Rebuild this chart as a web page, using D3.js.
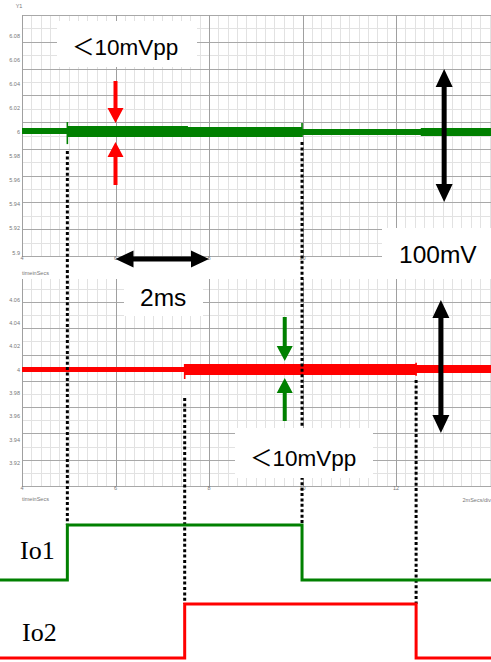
<!DOCTYPE html>
<html>
<head>
<meta charset="utf-8">
<script src="https://cdn.jsdelivr.net/npm/d3@7"></script>
<style>
  body { margin: 0; background: #fff; }
  svg { display: block; }
</style>
</head>
<body>
<svg id="chart" width="491" height="662"></svg>
<script>
// ---- data -------------------------------------------------------------
// time axis (ms) and voltage tick labels of both outputs
const timeTicks = [4, 6, 8, 10, 12];
const v1Ticks = [6.08, 6.06, 6.04, 6.02, 6, 5.98, 5.96, 5.94, 5.92, 5.9];
const v2Ticks = [4.06, 4.04, 4.02, 4, 3.98, 3.96, 3.94, 3.92];

// ripple envelope of each output: [tStart, tEnd, vMin, vMax]
const v1Segments = [
  [4.00, 4.97, 5.9983, 6.0033],
  [4.97, 7.55, 5.9959, 6.0050],
  [7.55, 9.99, 5.9959, 6.0041],
  [9.99, 12.53, 5.9975, 6.0025],
  [12.53, 14.2, 5.9967, 6.0033]
];
const v2Segments = [
  [4.00, 7.48, 3.9981, 4.0024],
  [7.48, 12.43, 3.9955, 4.0050],
  [12.43, 14.2, 3.9973, 4.0041]
];
// transient spikes at load steps: [t, vMin, vMax]
const v1Spikes = [[4.97, 5.9900, 6.0083], [9.99, 5.9959, 6.0075]];
const v2Spikes = [[7.48, 3.9921, 4.0050], [12.43, 3.9950, 4.0060]];

// load-current states: [t, level]
const io1States = [[-1, 0], [4.97, 1], [9.99, 0], [15, 0]];
const io2States = [[-1, 0], [7.48, 1], [12.43, 0], [15, 0]];

// event markers linking load steps to the outputs: [t, panel, vStart, io]
const markers = [
  [4.97, 1, 5.9842, 1],
  [9.99, 1, 5.9917, 1],
  [7.48, 2, 3.9758, 2],
  [12.43, 2, 3.9912, 2]
];

// ---- layout -----------------------------------------------------------
const svg = d3.select("#chart");
const W = 491;
const x = d3.scaleLinear().domain([4, 14]).range([22, 489.5]);

const p1 = { top: 15, bottom: 256, divs: 9, label: 258 };
const p2 = { top: 279, bottom: 486, divs: 8, divH: 26.3, label: 488 };
p1.divH = (p1.bottom - p1.top) / p1.divs;

const y1 = d3.scaleLinear().domain([5.9, 6.1]).range([252.6, 11.5]);
const y2 = d3.scaleLinear().domain([3.9, 4.08]).range([486.2, 276.7]);

const io1Y = d3.scaleLinear().domain([0, 1]).range([580, 525]);
const io2Y = d3.scaleLinear().domain([0, 1]).range([658, 604]);

const GREEN = "#008000", RED = "#ff0000";

// ---- grid -------------------------------------------------------------
function drawGrid(p) {
  const g = svg.append("g");
  const minorT = d3.range(4, 14.01, 0.2);
  g.selectAll(".vmin").data(minorT).join("line")
    .attr("x1", d => Math.round(x(d)) + 0.5).attr("x2", d => Math.round(x(d)) + 0.5)
    .attr("y1", p.top).attr("y2", p.bottom)
    .attr("stroke", "#e2e2e2").attr("stroke-width", 1);
  const hMinor = [], hMajor = [];
  for (let k = 0; ; k++) {
    const yy = p.bottom - k * p.divH / 2;
    if (yy < p.top - 0.5) break;
    (k % 2 === 0 ? hMajor : hMinor).push(yy);
  }
  g.selectAll(".hmin").data(hMinor).join("line")
    .attr("x1", x(4)).attr("x2", W)
    .attr("y1", d => Math.round(d) + 0.5).attr("y2", d => Math.round(d) + 0.5)
    .attr("stroke", "#e2e2e2");
  g.selectAll(".hmaj").data(hMajor).join("line")
    .attr("x1", x(4)).attr("x2", W)
    .attr("y1", d => Math.round(d) + 0.5).attr("y2", d => Math.round(d) + 0.5)
    .attr("stroke", "#a8a8a8");
  g.selectAll(".vmaj").data(timeTicks).join("line")
    .attr("x1", d => Math.round(x(d)) + 0.5).attr("x2", d => Math.round(x(d)) + 0.5)
    .attr("y1", p.top).attr("y2", p.bottom)
    .attr("stroke", "#a0a0a0");
}
drawGrid(p1);
drawGrid(p2);

// ---- axis labels --------------------------------------------------------
const small = { "font-family": "Liberation Sans, Arial, sans-serif", "font-size": "5.5px", fill: "#777" };
function applyStyle(sel, st) { Object.entries(st).forEach(([k, v]) => sel.attr(k, v)); return sel; }

function yLabels(ticks, scale) {
  const s = svg.append("g").selectAll("text").data(ticks).join("text")
    .attr("x", 20).attr("y", d => scale(d)).attr("dy", "0.35em")
    .attr("text-anchor", "end").text(d => d3.format("~g")(d));
  applyStyle(s, small);
}
yLabels(v1Ticks, y1);
yLabels(v2Ticks, y2);

function xLabels(p) {
  const s = svg.append("g").selectAll("text").data(timeTicks).join("text")
    .attr("x", d => x(d)).attr("y", p.label).attr("dy", "0.35em")
    .attr("text-anchor", "middle").text(d => d);
  applyStyle(s, small);
}
xLabels(p1);
xLabels(p2);

applyStyle(svg.append("text").attr("x", 19).attr("y", 8).attr("text-anchor", "middle").text("Y1"), small);
applyStyle(svg.append("text").attr("x", 22).attr("y", 275).text("timeinSecs"), small);
applyStyle(svg.append("text").attr("x", 22).attr("y", 501).text("timeinSecs"), small);
applyStyle(svg.append("text").attr("x", 491).attr("y", 502).attr("text-anchor", "end").text("2mSecs/div"), small);

// ---- output traces ----------------------------------------------------
function drawTrace(segments, spikes, scale, color) {
  const pts = [];
  segments.forEach(([t0, t1, lo, hi]) => { pts.push({ t: t0, lo, hi }); pts.push({ t: t1, lo, hi }); });
  const area = d3.area().x(d => x(d.t)).y0(d => scale(d.lo)).y1(d => scale(d.hi));
  svg.append("path").datum(pts).attr("d", area).attr("fill", color);
  svg.append("g").selectAll("line").data(spikes).join("line")
    .attr("x1", d => x(d[0])).attr("x2", d => x(d[0]))
    .attr("y1", d => scale(d[1])).attr("y2", d => scale(d[2]))
    .attr("stroke", color).attr("stroke-width", 1.6);
}
drawTrace(v1Segments, v1Spikes, y1, GREEN);
drawTrace(v2Segments, v2Spikes, y2, RED);

// ---- dotted event markers ---------------------------------------------
svg.append("g").selectAll("line").data(markers).join("line")
  .attr("x1", d => x(d[0])).attr("x2", d => x(d[0]))
  .attr("y1", d => (d[1] === 1 ? y1 : y2)(d[2]))
  .attr("y2", d => (d[3] === 1 ? io1Y : io2Y)(1))
  .attr("stroke", "#000").attr("stroke-width", 3)
  .attr("stroke-dasharray", "3,2.4");

// ---- annotation boxes -------------------------------------------------
const boxes = [
  { x0: 57, y0: 21, x1: 197, y1: 67, text: "＜10mVpp", tx: 72, ty: 55, size: 22.5 },
  { x0: 382, y0: 228, x1: 491, y1: 279, text: "100mV", tx: 399, ty: 263, size: 24.5 },
  { x0: 124, y0: 279, x1: 203, y1: 316, text: "2ms", tx: 140, ty: 306, size: 24.5 },
  { x0: 235, y0: 428, x1: 373, y1: 478, text: "＜10mVpp", tx: 250, ty: 466, size: 22.5 }
];
const bg = svg.append("g").selectAll("g").data(boxes).join("g");
bg.append("rect").attr("x", d => d.x0).attr("y", d => d.y0)
  .attr("width", d => d.x1 - d.x0).attr("height", d => d.y1 - d.y0).attr("fill", "#fff");
bg.append("text").attr("x", d => d.tx).attr("y", d => d.ty)
  .attr("font-family", "Liberation Sans, Arial, 'Noto Sans CJK JP', sans-serif")
  .attr("font-size", d => d.size + "px").attr("fill", "#000").text(d => d.text);

// ---- arrows -----------------------------------------------------------
function arrow(xa, ya, xb, yb, color, shaft, headW, headL, double) {
  const dx = xb - xa, dy = yb - ya, len = Math.hypot(dx, dy);
  const ux = dx / len, uy = dy / len, nx = -uy, ny = ux;
  const pts = [];
  const s = shaft / 2, h = headW / 2;
  const startL = double ? headL : 0, endL = len - headL;
  const P = (l, w) => [xa + ux * l + nx * w, ya + uy * l + ny * w];
  if (double) { pts.push(P(0, 0), P(headL, h), P(headL, s)); } else { pts.push(P(0, s)); }
  pts.push(P(endL, s), P(endL, h), P(len, 0), P(endL, -h), P(endL, -s));
  if (double) { pts.push(P(headL, -s), P(headL, -h)); } else { pts.push(P(0, -s)); }
  svg.append("polygon").attr("points", pts.map(p => p.join(",")).join(" ")).attr("fill", color);
}
// peak-to-peak markers on each output
arrow(x(6), y1(6.0423), x(6), y1(6.0075), RED, 4, 16, 15, false);
arrow(x(6), y1(5.956), x(6), y1(5.9917), RED, 4, 16, 15, false);
arrow(x(9.62), y2(4.0454), x(9.62), y2(4.0076), GREEN, 4, 16, 15, false);
arrow(x(9.62), y2(3.956), x(9.62), y2(3.993), GREEN, 4, 16, 15, false);
// scale markers: 100mV vertical, 2ms horizontal
arrow(x(13.03), y1(6.0523), x(13.03), y1(5.9419), "#000", 5, 17, 18, true);
arrow(x(12.96), y2(4.06), x(12.96), y2(3.9457), "#000", 5, 17, 18, true);
arrow(x(6), y1(5.8947), x(8), y1(5.8947), "#000", 5, 17, 18, true);

// ---- load current waveforms ------------------------------------------
const stepLine = sc => d3.line().x(d => x(d[0])).y(d => sc(d[1])).curve(d3.curveStepAfter);
svg.append("path").datum(io1States).attr("d", stepLine(io1Y))
  .attr("fill", "none").attr("stroke", GREEN).attr("stroke-width", 3);
svg.append("path").datum(io2States).attr("d", stepLine(io2Y))
  .attr("fill", "none").attr("stroke", RED).attr("stroke-width", 3);

const ioLabel = { "font-family": "Liberation Serif, 'Times New Roman', serif", "font-size": "26px", fill: "#000" };
applyStyle(svg.append("text").attr("x", 20).attr("y", 559).text("Io1"), ioLabel);
applyStyle(svg.append("text").attr("x", 22).attr("y", 641).text("Io2"), ioLabel);
</script>
</body>
</html>
